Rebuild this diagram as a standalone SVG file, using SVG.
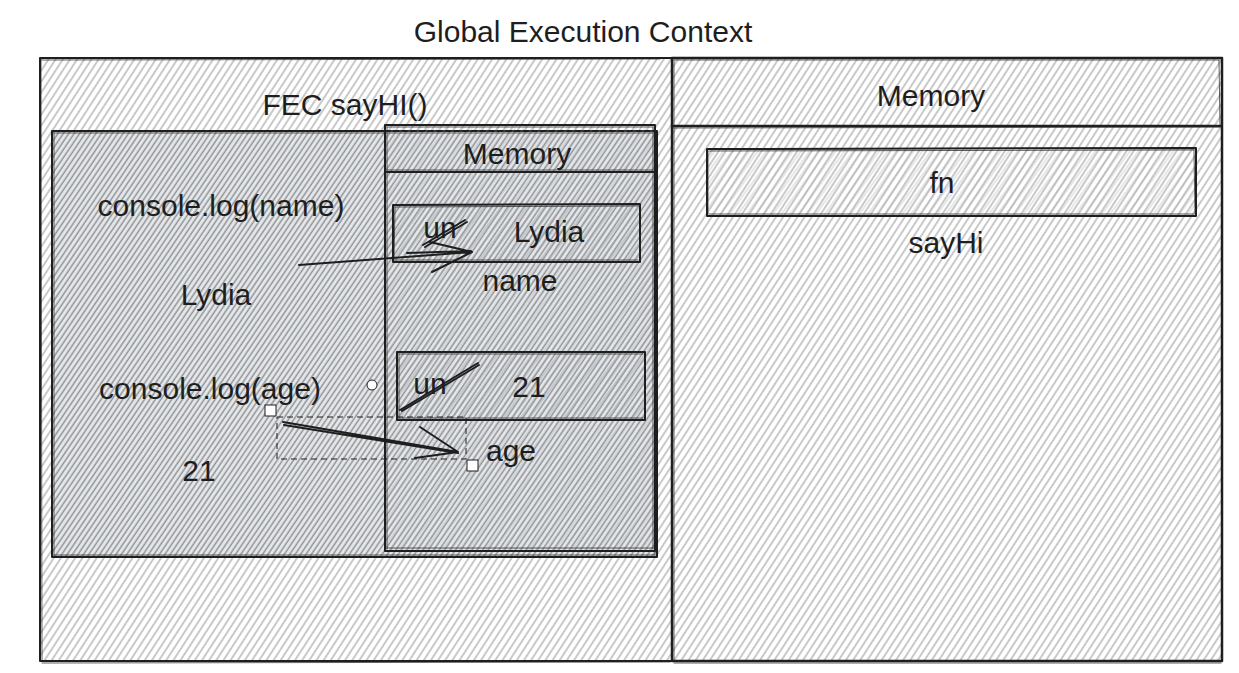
<svg xmlns="http://www.w3.org/2000/svg" width="1239" height="673" viewBox="0 0 1239 673">
<style>
text{font-family:"Liberation Sans",Arial,sans-serif;font-size:30px;fill:#1e1e1e;text-anchor:middle}
.b{fill:none;stroke:#1e1e1e;stroke-width:2;stroke-linejoin:round;stroke-linecap:round}
.b2{fill:none;stroke:#2a2a2a;stroke-width:1;opacity:.75;stroke-linecap:round}
.ar{fill:none;stroke:#1e1e1e;stroke-width:2;stroke-linecap:round;stroke-linejoin:round}
</style>
<defs>
<pattern id="hA" width="6" height="10" patternUnits="userSpaceOnUse" patternTransform="rotate(33)">
<line x1="1" y1="0" x2="1" y2="10" stroke="#9c9c9c" stroke-width="1.1"/>
</pattern>
<pattern id="hB" width="4.5" height="10" patternUnits="userSpaceOnUse" patternTransform="rotate(34)">
<rect width="4.5" height="10" fill="#e6e8ea"/>
<line x1="1.2" y1="0" x2="1.2" y2="10" stroke="#8e9296" stroke-width="1.5"/>
</pattern>
<pattern id="hC" width="7" height="10" patternUnits="userSpaceOnUse" patternTransform="rotate(36)">
<line x1="2" y1="0" x2="2" y2="10" stroke="#9aa0a6" stroke-width="1"/>
</pattern>
</defs>
<rect width="1239" height="673" fill="#ffffff"/>

<text x="583" y="42">Global Execution Context</text>

<g id="gec-left">
<rect x="40" y="58" width="632" height="603" fill="url(#hA)"/>
<path class="b" d="M40 58 L672 58 M40 58 L40 661 M40 661 L672 661"/>
<path class="b2" d="M42 60 L660 59 M41 60 L42 660 M42 663 L670 662"/>
</g>

<g id="gec-memory">
<rect x="672" y="58" width="550" height="603" fill="url(#hA)"/>
<path class="b" d="M672 58 L1222 58 L1222 661 L672 661 Z M672 126 L1222 126" style="stroke-width:2.5"/>
<path class="b2" d="M674 60 L1219 60 M1219 60 L1220 125 M674 60 L674 660 M673 128 L1220 127 M674 663 L1221 663"/>
<text x="931" y="106">Memory</text>
</g>

<g id="fn-box">
<rect x="707" y="148" width="489" height="68" fill="url(#hC)" opacity=".5"/>
<path class="b" d="M707 149 L1196 148 L1196 216 L707 216 Z"/>
<path class="b2" d="M709 151 L1194 150 M1194 150 L1195 214 M708 151 L708 214 M709 214 L1194 214"/>
<text x="942" y="193">fn</text>
<text x="946" y="253">sayHi</text>
</g>

<text x="345" y="115">FEC sayHI()</text>

<g id="fec">
<rect x="52" y="131" width="605" height="426" fill="url(#hB)"/>
<path class="b" d="M52 131 L657 131 L657 557 L52 557 Z"/>
<path class="b2" d="M54 133 L655 133 M54 133 L54 556 M54 555 L655 555 M655 133 L655 555"/>
<text x="221" y="216">console.log(name)</text>
<text x="216" y="305">Lydia</text>
<text x="210" y="399">console.log(age)</text>
<text x="199" y="481">21</text>
</g>

<g id="fec-memory">
<rect x="385" y="125" width="270" height="426" fill="url(#hC)" opacity=".45"/>
<path class="b" d="M385 125 L655 125 L655 551 L385 551 Z M385 172 L655 172"/>
<path class="b2" d="M387 127 L653 127 M387 127 L387 549 M387 548 L653 548 M653 127 L653 549 M387 170 L653 170"/>
<text x="517" y="164">Memory</text>
</g>

<g id="name-box">
<rect x="393" y="205" width="247" height="57" fill="url(#hC)" opacity=".5"/>
<path class="b" d="M393 205 L640 204 L640 262 L393 262 Z"/>
<path class="b2" d="M395 207 L638 206 M395 207 L394 260 M395 260 L638 260"/>
<text x="440" y="238">un</text>
<text x="549" y="242">Lydia</text>
<text x="520" y="291">name</text>
</g>

<g id="age-box">
<rect x="397" y="352" width="248" height="68" fill="url(#hC)" opacity=".5"/>
<path class="b" d="M397 352 L645 352 L645 420 L397 420 Z"/>
<path class="b2" d="M399 354 L643 354 M399 354 L399 418 M399 418 L643 418"/>
<text x="430" y="394">un</text>
<text x="529" y="397">21</text>
<text x="511" y="461">age</text>
</g>

<g id="connectors">
<path class="ar" d="M423 245 L465 220 M425 247 L467 222"/>
<path class="ar" d="M299 265 L472 252 M430 242 L472 252 L432 272 M407 253 L471 251"/>
<path class="ar" d="M400 410 L478 363 M402 411 L479 365"/>
<path class="ar" d="M283 422 L458 452 M284 425 L458 453 M420 427 L458 452 L415 458"/>
</g>

<g id="selection">
<rect x="277" y="417" width="189" height="42" fill="none" stroke="#1e1e1e" stroke-width="1" stroke-dasharray="6 4"/>
<rect x="265" y="405" width="11" height="11" fill="#fff" stroke="#1e1e1e" stroke-width="1"/>
<rect x="467" y="460" width="11" height="11" fill="#fff" stroke="#1e1e1e" stroke-width="1"/>
<circle cx="372" cy="385" r="5" fill="#fff" stroke="#1e1e1e" stroke-width="1"/>
</g>
</svg>
